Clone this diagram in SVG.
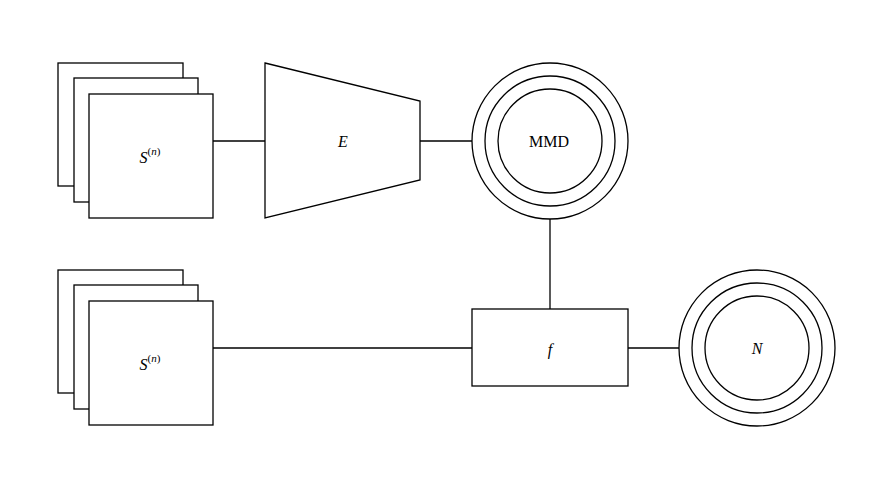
<svg xmlns="http://www.w3.org/2000/svg" width="893" height="489" viewBox="0 0 893 489">
<style>
.s{fill:#fff;stroke:#000;stroke-width:1.3}
.c{fill:none;stroke:#000;stroke-width:1.3}
.t{font-family:"Liberation Serif","DejaVu Serif",serif;font-size:16px;fill:#000;text-anchor:middle;dominant-baseline:central}
.i{font-style:italic}
.sup{font-size:11px}
</style>
<rect width="893" height="489" fill="#fff"/>
<g id="connectors" class="c">
<line x1="213" y1="141" x2="265" y2="141"/>
<line x1="420" y1="141" x2="472" y2="141"/>
<line x1="550" y1="219" x2="550" y2="309"/>
<line x1="213" y1="348" x2="472" y2="348"/>
<line x1="628" y1="348" x2="679" y2="348"/>
</g>
<g id="stack1">
<rect class="s" x="58" y="63" width="125" height="123"/>
<rect class="s" x="74" y="78" width="124" height="124"/>
<rect class="s" x="89" y="94" width="124" height="124"/>
<text class="t" x="150" y="157"><tspan class="i">S</tspan><tspan class="sup" dy="-6">(</tspan><tspan class="sup i">n</tspan><tspan class="sup">)</tspan></text>
</g>
<g id="encoder">
<polygon class="s" points="265,63 420,101 420,180 265,218"/>
<text class="t i" x="343" y="141">E</text>
</g>
<g id="mmd">
<circle class="s" cx="550" cy="141" r="78"/>
<circle class="s" cx="550" cy="141" r="65"/>
<circle class="s" cx="550" cy="141" r="52"/>
<text class="t" x="549" y="141" font-size="14.5">MMD</text>
</g>
<g id="stack2">
<rect class="s" x="58" y="270" width="125" height="123"/>
<rect class="s" x="74" y="285" width="124" height="124"/>
<rect class="s" x="89" y="301" width="124" height="124"/>
<text class="t" x="150" y="364"><tspan class="i">S</tspan><tspan class="sup" dy="-6">(</tspan><tspan class="sup i">n</tspan><tspan class="sup">)</tspan></text>
</g>
<g id="f">
<rect class="s" x="472" y="309" width="156" height="77"/>
<text class="t i" x="550" y="349">f</text>
</g>
<g id="normal">
<circle class="s" cx="757" cy="348" r="78"/>
<circle class="s" cx="757" cy="348" r="65"/>
<circle class="s" cx="757" cy="348" r="52"/>
<text class="t i" x="757" y="348">N</text>
</g>
</svg>
